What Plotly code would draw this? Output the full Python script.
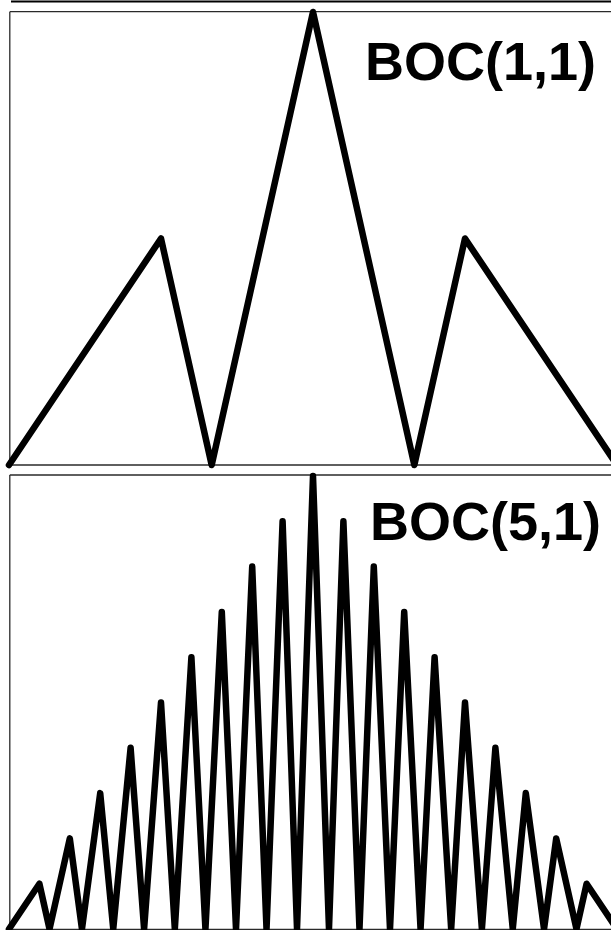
import plotly.graph_objects as go

# ---- data: |autocorrelation| of BOC signals vs code delay (chips) ----
boc11_tau = [-1.0, -0.5, -0.3333, 0.0, 0.3333, 0.5, 1.0]
boc11_mag = [0.0, 0.5, 0.0, 1.0, 0.0, 0.5, 0.0]

boc51_tau = [-1.0, -0.9, -0.8667, -0.8, -0.76, -0.7, -0.6571, -0.6, -0.5556, -0.5,
             -0.4545, -0.4, -0.3538, -0.3, -0.2533, -0.2, -0.1529, -0.1, -0.0526, 0.0,
             0.0526, 0.1, 0.1529, 0.2, 0.2533, 0.3, 0.3538, 0.4, 0.4545, 0.5,
             0.5556, 0.6, 0.6571, 0.7, 0.76, 0.8, 0.8667, 0.9, 1.0]
boc51_mag = [0.0, 0.1, 0.0, 0.2, 0.0, 0.3, 0.0, 0.4, 0.0, 0.5,
             0.0, 0.6, 0.0, 0.7, 0.0, 0.8, 0.0, 0.9, 0.0, 1.0,
             0.0, 0.9, 0.0, 0.8, 0.0, 0.7, 0.0, 0.6, 0.0, 0.5,
             0.0, 0.4, 0.0, 0.3, 0.0, 0.2, 0.0, 0.1, 0.0]

labels = ["BOC(1,1)", "BOC(5,1)"]

# ---- layout geometry (pixels) ----
W, H = 611, 930
X0_PX, PX_PER_TAU = 313.0, 304.0
panels = [
    # (domain top px, domain bottom px, y=1 px, y=0 px, box top px, box bottom px)
    (3, 470, 12, 465, 11.7, 465),
    (472, 930, 476, 929, 475, 929.5),
]
label_pos = [(598, 61), (603, 521)]  # (right x px, middle y px)

def py(p):  # pixel -> paper y
    return 1 - p / H

def px(p):
    return p / W

fig = go.Figure()
shapes = []
annotations = []
for i, (tau, mag, (dtop, dbot, y1, y0, btop, bbot)) in enumerate(
        zip([boc11_tau, boc51_tau], [boc11_mag, boc51_mag], panels)):
    n = "" if i == 0 else str(i + 1)
    fig.add_trace(go.Scatter(x=tau, y=mag, mode="lines",
                             line=dict(color="black", width=6.5),
                             xaxis="x" + n, yaxis="y" + n, showlegend=False,
                             hoverinfo="skip"))
    scale = y0 - y1
    yr = [-(dbot - y0) / scale, 1 + (y1 - dtop) / scale]
    xr = [-X0_PX / PX_PER_TAU, (W - X0_PX) / PX_PER_TAU]
    ax = dict(range=xr, domain=[0, 1], visible=False, fixedrange=True)
    ay = dict(range=yr, domain=[py(dbot), py(dtop)], visible=False, fixedrange=True)
    if i == 0:
        ax["anchor"] = "y"; ay["anchor"] = "x"
    else:
        ax["anchor"] = "y2"; ay["anchor"] = "x2"
    fig.update_layout(**{"xaxis" + n: ax, "yaxis" + n: ay})
    box = dict(type="line", xref="paper", yref="paper", layer="below",
               line=dict(color="#2a2a2a", width=1.3))
    shapes.append(dict(box, x0=px(9.8), x1=px(9.8), y0=py(btop), y1=py(bbot)))
    shapes.append(dict(box, x0=px(9.8), x1=1.0, y0=py(btop), y1=py(btop)))
    shapes.append(dict(box, x0=px(9.8), x1=1.0, y0=py(bbot), y1=py(bbot)))
    lx, ly = label_pos[i]
    annotations.append(dict(text="<b>" + labels[i] + "</b>", xref="paper", yref="paper",
                            x=px(lx), y=py(ly), xanchor="right", yanchor="middle",
                            showarrow=False,
                            font=dict(family="Liberation Sans, Arial", size=54, color="black")))

# bottom edge of a panel above (cropped)
shapes.append(dict(type="line", xref="paper", yref="paper", layer="below",
                   x0=px(11), x1=1.0, y0=py(1.5), y1=py(1.5),
                   line=dict(color="black", width=2.2)))

fig.update_layout(width=W, height=H, margin=dict(l=0, r=0, t=0, b=0),
                  paper_bgcolor="white", plot_bgcolor="rgba(0,0,0,0)",
                  shapes=shapes, annotations=annotations)

post = ("document.body.style.margin='0';document.body.style.overflow='hidden';"
        "document.querySelectorAll('.scatterlayer path.js-line').forEach(function(p){"
        "p.style.strokeLinejoin='round';p.style.strokeLinecap='round';});")
fig.write_html("out.html", config={"displayModeBar": False}, post_script=post)
